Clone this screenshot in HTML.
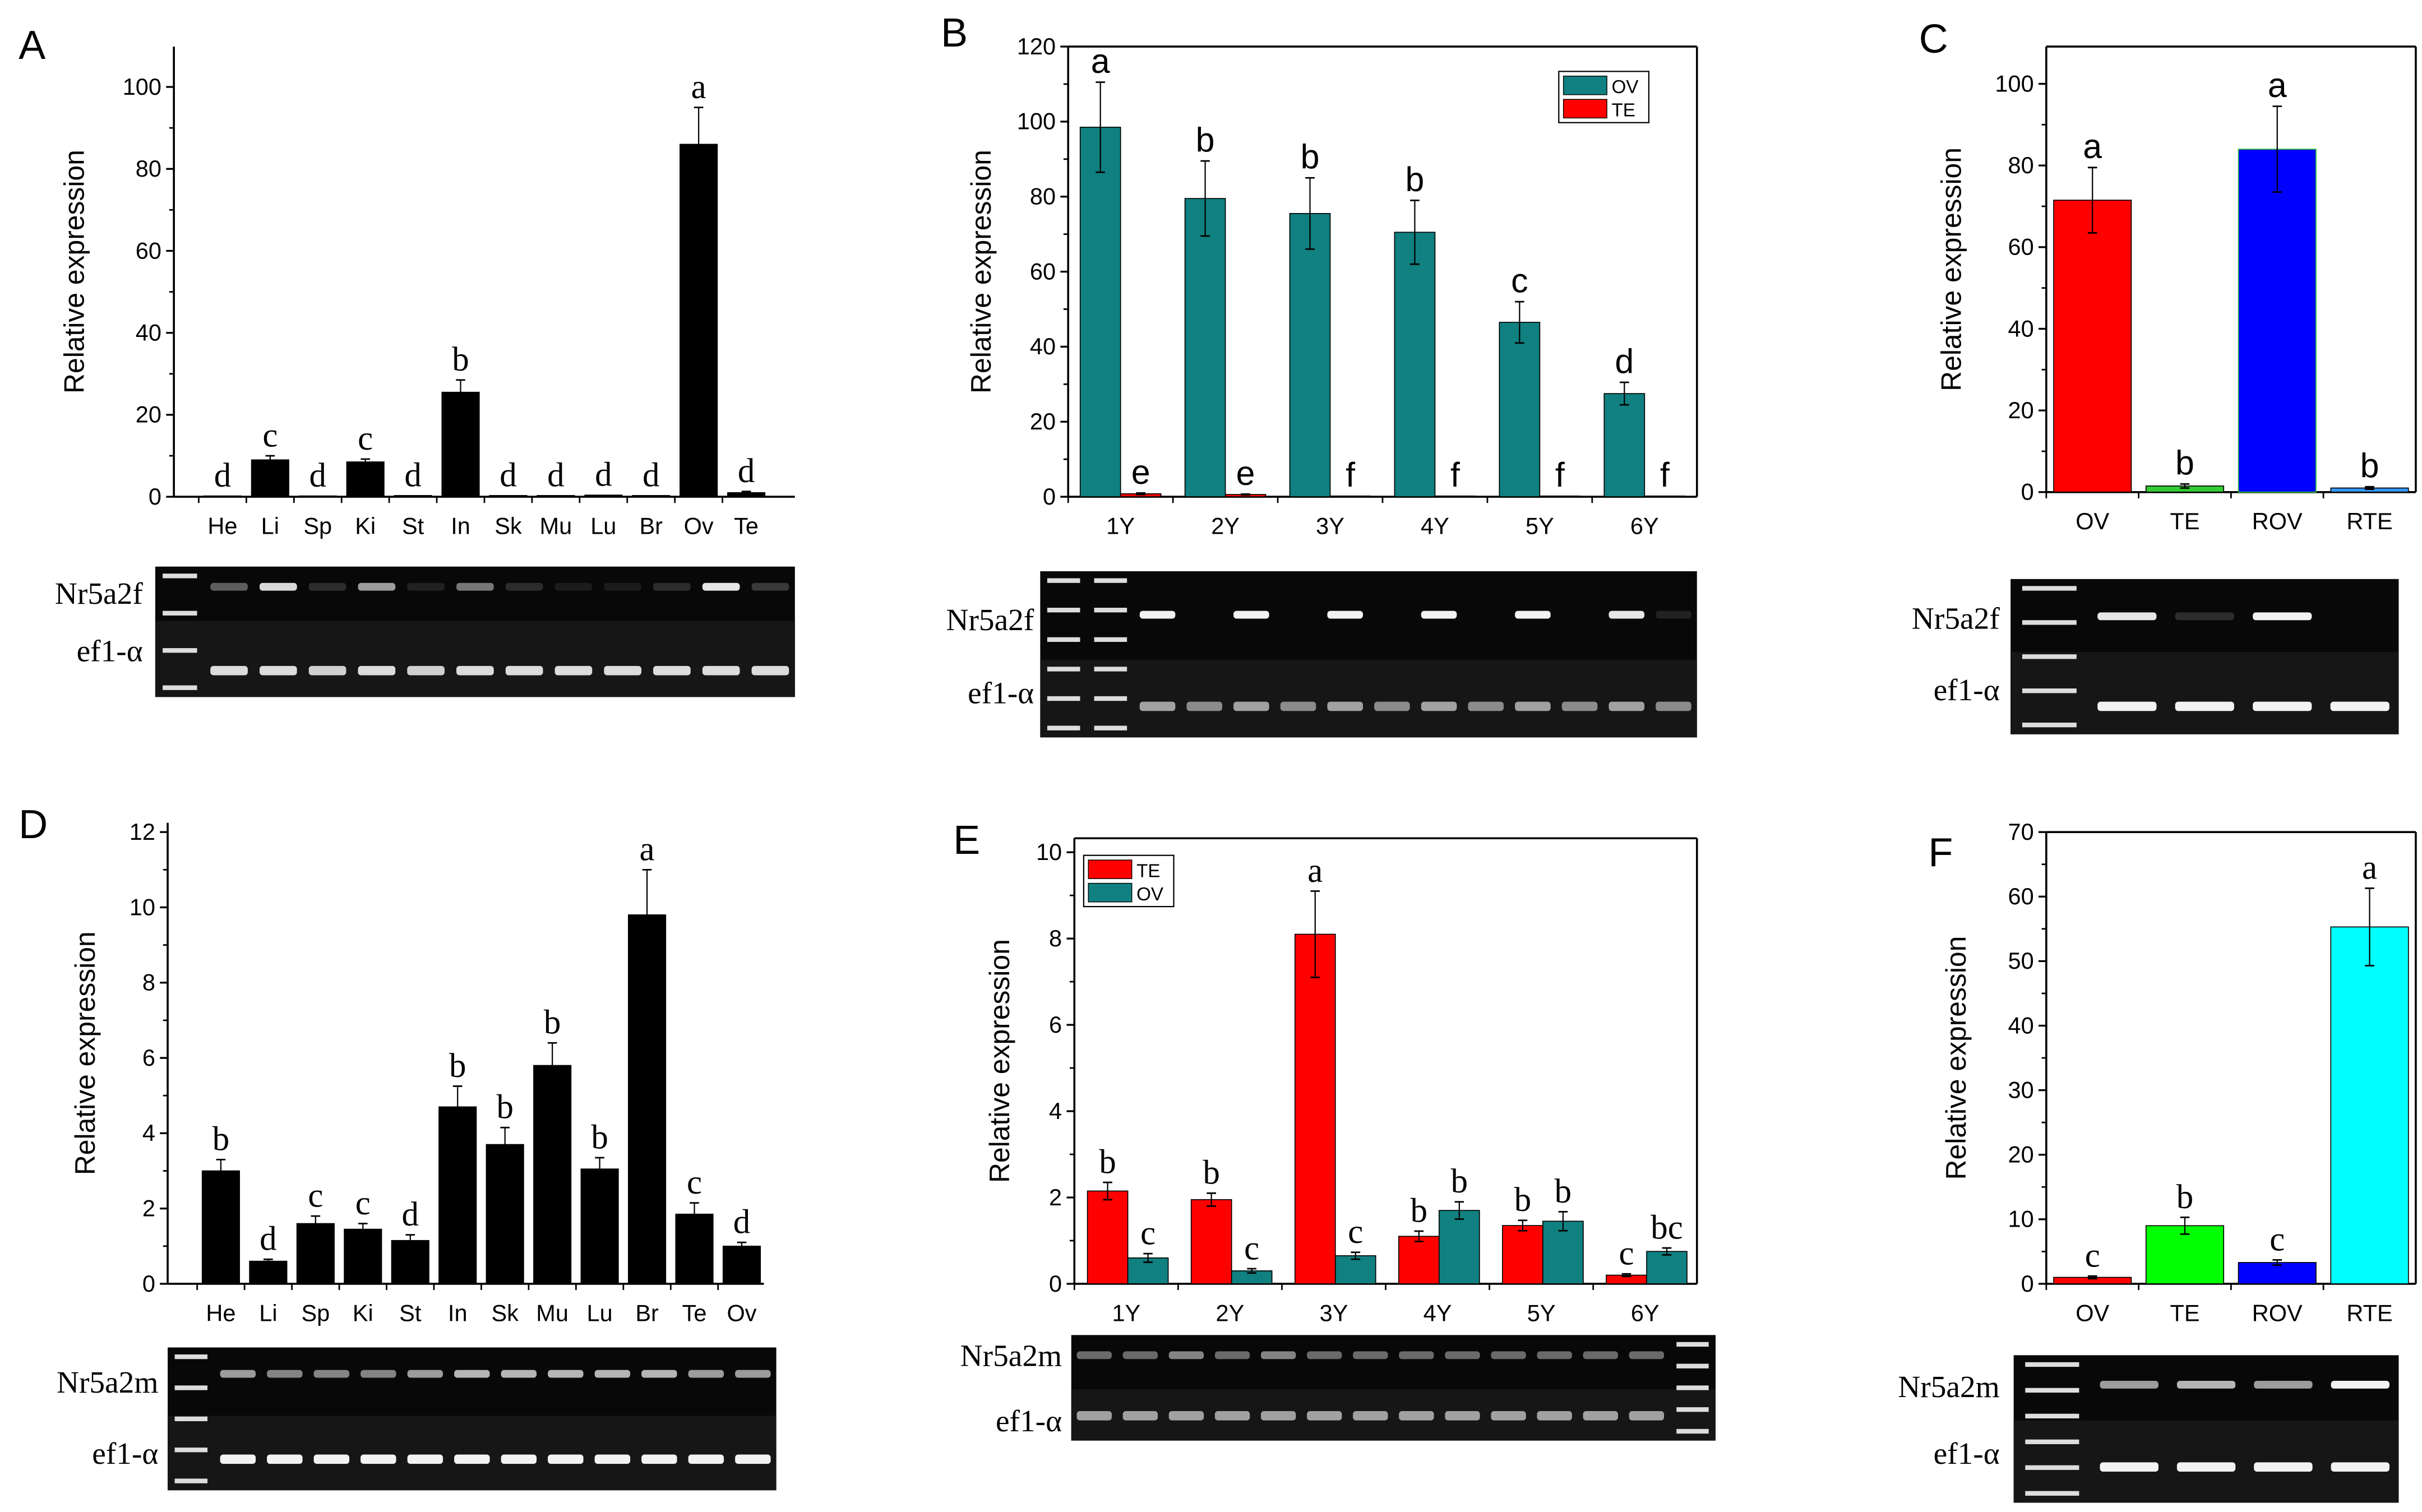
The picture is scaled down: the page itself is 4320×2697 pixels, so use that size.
<!DOCTYPE html>
<html><head><meta charset="utf-8"><style>
html,body{margin:0;padding:0;background:#fff;}
svg{display:block;}
text{font-family:"Liberation Sans",sans-serif;}
.ser{font-family:"Liberation Serif",serif;}
</style></head><body>
<svg id="fig" width="4320" height="2697" viewBox="0 0 1560 974" preserveAspectRatio="none" xmlns="http://www.w3.org/2000/svg"></svg>
<script>
const aCats=["He","Li","Sp","Ki","St","In","Sk","Mu","Lu","Br","Ov","Te"];
const aVals=[0.2,9,0.2,8.5,0.3,25.5,0.3,0.3,0.4,0.3,86,1];
const aErr=[0,1,0,0.7,0,3,0,0,0,0,9,0.3];
const aLet=["d","c","d","c","d","b","d","d","d","d","a","d"];
const bCats=["1Y","2Y","3Y","4Y","5Y","6Y"];
const bOV=[98.5,79.5,75.5,70.5,46.5,27.5];
const bOVerr=[12,10,9.5,8.5,5.5,3];
const bTE=[0.8,0.6,0.2,0.2,0.2,0.2];
const bTEerr=[0.2,0.1,0,0,0,0];
const bOVlet=["a","b","b","b","c","d"];
const bTElet=["e","e","f","f","f","f"];
const cCats=["OV","TE","ROV","RTE"];
const cVals=[71.5,1.5,84,1];
const cErr=[8,0.5,10.5,0.3];
const cLet=["a","b","a","b"];
const dCats=["He","Li","Sp","Ki","St","In","Sk","Mu","Lu","Br","Te","Ov"];
const dVals=[3,0.6,1.6,1.45,1.15,4.7,3.7,5.8,3.05,9.8,1.85,1.0];
const dErr=[0.3,0.05,0.2,0.15,0.15,0.55,0.45,0.6,0.3,1.2,0.3,0.1];
const dLet=["b","d","c","c","d","b","b","b","b","a","c","d"];
const eCats=["1Y","2Y","3Y","4Y","5Y","6Y"];
const eTE=[2.15,1.95,8.1,1.1,1.35,0.2];
const eTEerr=[0.2,0.15,1,0.12,0.12,0.03];
const eOV=[0.6,0.3,0.65,1.7,1.45,0.75];
const eOVerr=[0.1,0.05,0.08,0.2,0.22,0.08];
const eTElet=["b","b","a","b","b","c"];
const eOVlet=["c","c","c","b","b","bc"];
const fCats=["OV","TE","ROV","RTE"];
const fVals=[1,9,3.3,55.3];
const fErr=[0.2,1.3,0.4,6];
const fLet=["c","b","c","a"];

const svg=document.getElementById('fig');
const NS="http://www.w3.org/2000/svg";
function el(tag,attrs,parent,txt){const e=document.createElementNS(NS,tag);for(const k in attrs)e.setAttribute(k,attrs[k]);if(txt!==undefined)e.textContent=txt;(parent||svg).appendChild(e);return e;}

function panel(o){
  const g=el('g',{});
  
  
  const y=v=>o.y0-(v/o.ymax)*(o.y0-o.ytop);
  const n=o.cats.length;
  const cs=o.cs!==undefined?o.cs:o.x0;
  const ce=o.ce!==undefined?o.ce:o.x1;
  const step=(ce-cs)/n;
  const xc=i=>cs+step*(i+0.5);
  const ax=el('line',{x1:o.x0,y1:o.yAxTop,x2:o.x0,y2:o.y0,stroke:'#000','stroke-width':1.3},g);
  
  const bx=el('line',{x1:o.x0,y1:o.y0,x2:o.x1,y2:o.y0,stroke:'#000','stroke-width':1.3},g);
  
  if(o.frame){el('line',{x1:o.x0,y1:o.yAxTop,x2:o.x1,y2:o.yAxTop,stroke:'#000','stroke-width':1.3},g);el('line',{x1:o.x1,y1:o.yAxTop,x2:o.x1,y2:o.y0,stroke:'#000','stroke-width':1.3},g);}
  for(let v=0;v<=o.ymax+1e-9;v+=o.tick){
    el('line',{x1:o.x0-5,y1:y(v),x2:o.x0,y2:y(v),stroke:'#000','stroke-width':1.2},g);
    if(v+o.tick/2<=o.ymax){el('line',{x1:o.x0-3,y1:y(v+o.tick/2),x2:o.x0,y2:y(v+o.tick/2),stroke:'#000','stroke-width':1},g);}
    const t=el('text',{x:o.x0-8,y:y(v)+5,'text-anchor':'end','font-size':15},g,String(Math.round(v*10)/10));
    
  }
  for(let i=0;i<n;i++){
    el('line',{x1:cs+step*i,y1:o.y0,x2:cs+step*i,y2:o.y0+4,stroke:'#000'},g);
    const t=el('text',{x:xc(i),y:o.y0+24,'text-anchor':'middle','font-size':15},g,o.cats[i]);
    
  }
  const yt=el('text',{x:0,y:0,'text-anchor':'middle','font-size':18,transform:`translate(${o.x0-o.ytOff},${(o.yAxTop+o.y0)/2}) rotate(-90)`},g,'Relative expression');
  
  const pl=el('text',{x:o.plx,y:o.ply,'font-size':26},g,o.letter);
  
  o.series.forEach((s,si)=>{
    for(let i=0;i<n;i++){
      const cx=xc(i)+s.off;
      const v=s.vals[i];
      const r=el('rect',{x:cx-s.w/2,y:y(v),width:s.w,height:Math.max(0.5,o.y0-y(v)),fill:s.colors?s.colors[i]:s.color,stroke:s.strokes?s.strokes[i]:'#000','stroke-width':0.6},g);
      
      const e=s.err[i];
      if(e>0){
        el('line',{x1:cx,y1:y(v),x2:cx,y2:y(v+e),stroke:'#000','stroke-width':0.8},g);
        el('line',{x1:cx-3,y1:y(v+e),x2:cx+3,y2:y(v+e),stroke:'#000','stroke-width':1},g);
        if(s.bothErr){el('line',{x1:cx,y1:y(v),x2:cx,y2:y(v-e),stroke:'#000','stroke-width':0.8},g);el('line',{x1:cx-3,y1:y(v-e),x2:cx+3,y2:y(v-e),stroke:'#000','stroke-width':1},g);}
      }
      const lt=el('text',{x:cx,y:y(v+e)-6,'text-anchor':'middle','font-size':s.lfs||22,class:s.serif?'ser':''},g,s.lets[i]);
      
    }
  });
  if(o.legend){
    const L=o.legend;
    el('rect',{x:L.x,y:L.y,width:58,height:33,fill:'#fff',stroke:'#000','stroke-width':0.8},g);
    L.items.forEach((it,k)=>{
      const sw=el('rect',{x:L.x+3,y:L.y+3+k*15,width:28,height:12,fill:it[1],stroke:'#000','stroke-width':0.5},g);
      
      const t=el('text',{x:L.x+34,y:L.y+14+k*15,'font-size':12},g,it[0]);
      
    });
  }
}

function gel(o){
  const g=el('g',{});
  
  
  el('rect',{x:o.x,y:o.y,width:o.w,height:o.h,fill:'#080808'},g);
  el('rect',{x:o.x,y:o.split,width:o.w,height:o.y+o.h-o.split,fill:'#161616'},g);
  const n=o.lanes;const lw=o.w/n;
  for(let i=0;i<n;i++){
    const cx=o.x+lw*(i+0.5);
    if(o.ladder&&o.ladder.includes(i)){
      for(let k=0;k<o.ladderN;k++){el('rect',{x:cx-lw*0.35,y:o.y+6+k*(o.h-12)/(o.ladderN-1)-1.5,width:lw*0.7,height:3,fill:'#ddd'},g);}
      continue;
    }
    const a=o.top[i];
    if(a>0)el('rect',{x:cx-lw*0.38,y:o.tb-2.5,width:lw*0.76,height:5,rx:2,fill:'#fff','fill-opacity':a},g);
    const b=o.bot[i];
    if(b>0)el('rect',{x:cx-lw*0.38,y:o.bb-3,width:lw*0.76,height:6,rx:2,fill:'#fff','fill-opacity':b},g);
  }
  const t1=el('text',{x:o.lx,y:o.l1y,'text-anchor':'end','font-size':20,class:'ser'},g,o.label);
  
  const t2=el('text',{x:o.lx,y:o.l2y,'text-anchor':'end','font-size':20,class:'ser'},g,'ef1-α');
  
}

panel({name:'panel-a',letter:'A',plx:12,ply:38,x0:112,x1:512,cs:128,ce:496,y0:320,ytop:56,ymax:100,yAxTop:30,tick:20,ytOff:58,cats:aCats,
  series:[{vals:aVals,err:aErr,lets:aLet,w:24,off:0,color:'#000',serif:true}]});
panel({name:'panel-b',letter:'B',plx:606,ply:30,frame:true,x0:688,x1:1093,y0:320,ytop:30,ymax:120,yAxTop:30,tick:20,ytOff:50,cats:bCats,
  series:[{vals:bOV,err:bOVerr,lets:bOVlet,w:26,off:-13,color:'#108080',bothErr:true},{vals:bTE,err:bTEerr,lets:bTElet,w:26,off:13,color:'#ff0000',bothErr:true}],
  legend:{x:1004,y:46,items:[['OV','#108080'],['TE','#ff0000']]}});
panel({name:'panel-c',letter:'C',plx:1236,ply:34,frame:true,x0:1318,x1:1556,y0:317,ytop:54,ymax:100,yAxTop:30,tick:20,ytOff:55,cats:cCats,
  series:[{vals:cVals,err:cErr,lets:cLet,w:50,off:0,colors:['#ff0000','#33cc33','#0000ff','#3399ff'],strokes:['#000','#000','#33cc33','#000'],bothErr:true}]});
panel({name:'panel-d',letter:'D',plx:12,ply:540,x0:108,x1:492,cs:127,ce:493,y0:827,ytop:536,ymax:12,yAxTop:530,tick:2,ytOff:47,cats:dCats,
  series:[{vals:dVals,err:dErr,lets:dLet,w:24,off:0,color:'#000',serif:true,bothErr:true}]});
panel({name:'panel-e',letter:'E',plx:614,ply:550,frame:true,x0:692,x1:1093,y0:827,ytop:549,ymax:10,yAxTop:540,tick:2,ytOff:42,cats:eCats,
  series:[{vals:eTE,err:eTEerr,lets:eTElet,w:26,off:-12,color:'#ff0000',serif:true,bothErr:true},{vals:eOV,err:eOVerr,lets:eOVlet,w:26,off:14,color:'#108080',serif:true,bothErr:true}],
  legend:{x:698,y:551,items:[['TE','#ff0000'],['OV','#108080']]}});
panel({name:'panel-f',letter:'F',plx:1242,ply:558,frame:true,x0:1318,x1:1556,y0:827,ytop:536,ymax:70,yAxTop:536,tick:10,ytOff:52,cats:fCats,
  series:[{vals:fVals,err:fErr,lets:fLet,w:50,off:0,colors:['#ff0000','#00ff00','#0000ff','#00ffff'],serif:true,bothErr:true}]});

gel({name:'gel-a',x:100,y:365,w:412,h:84,split:400,lanes:13,ladder:[0],ladderN:4,top:[0,.35,.85,.15,.6,.1,.45,.15,.08,.08,.15,.9,.2],bot:[0,.85,.85,.8,.85,.8,.85,.85,.85,.85,.85,.85,.85],tb:378,bb:432,label:'Nr5a2f',lx:92,l1y:389,l2y:426});
gel({name:'gel-b',x:670,y:368,w:423,h:107,split:425,lanes:14,ladder:[0,1],ladderN:6,top:[0,0,.95,0,.95,0,.95,0,.95,0,.95,0,.9,0.1],bot:[0,0,.6,.5,.6,.5,.6,.5,.6,.5,.6,.5,.6,.5],tb:396,bb:455,label:'Nr5a2f',lx:666,l1y:406,l2y:453});
gel({name:'gel-c',x:1295,y:373,w:250,h:100,split:420,lanes:5,ladder:[0],ladderN:5,top:[0,.9,.15,.95,0],bot:[0,.95,.95,.95,.95],tb:397,bb:455,label:'Nr5a2f',lx:1288,l1y:405,l2y:451});
gel({name:'gel-d',x:108,y:868,w:392,h:92,split:912,lanes:13,ladder:[0],ladderN:5,top:[0,.6,.5,.5,.5,.6,.7,.7,.7,.7,.7,.6,.6],bot:[0,.95,.95,.95,.95,.95,.95,.95,.95,.95,.95,.95,.95],tb:885,bb:940,label:'Nr5a2m',lx:102,l1y:897,l2y:943});
gel({name:'gel-e',x:690,y:860,w:415,h:68,split:895,lanes:14,ladder:[13],ladderN:5,top:[.4,.4,.5,.4,.5,.4,.4,.4,.4,.4,.4,.4,.4,0],bot:[.6,.6,.6,.6,.6,.6,.6,.6,.6,.6,.6,.6,.6,0],tb:873,bb:912,label:'Nr5a2m',lx:684,l1y:880,l2y:922});
gel({name:'gel-f',x:1297,y:873,w:248,h:95,split:915,lanes:5,ladder:[0],ladderN:6,top:[0,.6,.7,.6,.95],bot:[0,.95,.95,.95,.95],tb:892,bb:945,label:'Nr5a2m',lx:1288,l1y:900,l2y:943});
</script>
</body></html>
